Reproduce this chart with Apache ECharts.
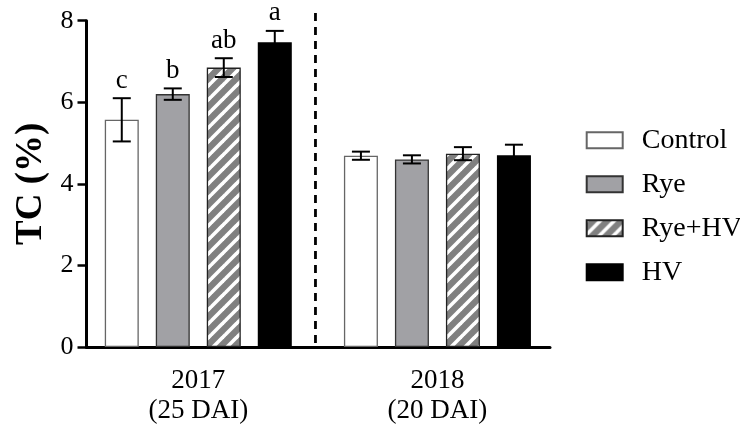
<!DOCTYPE html>
<html>
<head>
<meta charset="utf-8">
<script src="https://cdn.jsdelivr.net/npm/echarts@6/dist/echarts.min.js"></script>
<style>
  html, body { margin: 0; padding: 0; background: #fff; }
  #chart { width: 740px; height: 428px; }
</style>
</head>
<body>
<div id="chart"></div>
<script>
// Sampling years (category axis) and treatments (one bar series each)
const years = ['2017\n(25 DAI)', '2018\n(20 DAI)'];
const treatments = ['Control', 'Rye', 'Rye+HV', 'HV'];

// Mean total carbon (%) per year, and standard error
const controlMean = [5.57, 4.69];
const controlErr  = [0.53, 0.10];
const ryeMean     = [6.20, 4.60];
const ryeErr      = [0.14, 0.10];
const ryeHvMean   = [6.85, 4.74];
const ryeHvErr    = [0.23, 0.16];
const hvMean      = [7.47, 4.70];
const hvErr       = [0.28, 0.26];

// Significance letters (2017 only)
const controlLetters = ['c', ''];
const ryeLetters     = ['b', ''];
const ryeHvLetters   = ['ab', ''];
const hvLetters      = ['a', ''];

// Y axis ticks
const yTicks = [0, 2, 4, 6, 8];

// Position of the dashed divider between the two years (fraction of axis width)
const dividerPos = [0.494];

const FONT = '"Liberation Serif", "Times New Roman", serif';
const BAR_W = 34;
const BAR_GAP = 17;

// Diagonal hatch pattern: grey with white "/" stripes
function makeHatch() {
  const s = 14;
  const c = document.createElement('canvas');
  c.width = s; c.height = s;
  const ctx = c.getContext('2d');
  ctx.fillStyle = '#808080';
  ctx.fillRect(0, 0, s, s);
  ctx.strokeStyle = '#ffffff';
  ctx.lineWidth = 3.6;
  for (const k of [-s, 0, s]) {
    ctx.beginPath();
    ctx.moveTo(k - 1, s + 1);
    ctx.lineTo(k + s + 1, -1);
    ctx.stroke();
  }
  return c;
}
const hatch = makeHatch();

const groups = [
  { name: treatments[0], mean: controlMean, err: controlErr, letters: controlLetters,
    style: { color: '#ffffff', borderColor: '#666666', borderWidth: 1.3 } },
  { name: treatments[1], mean: ryeMean, err: ryeErr, letters: ryeLetters,
    style: { color: '#a1a1a5', borderColor: '#333333', borderWidth: 1.3 } },
  { name: treatments[2], mean: ryeHvMean, err: ryeHvErr, letters: ryeHvLetters,
    style: { color: { image: hatch, repeat: 'repeat' }, borderColor: '#222222', borderWidth: 1.3 } },
  { name: treatments[3], mean: hvMean, err: hvErr, letters: hvLetters,
    style: { color: '#000000', borderColor: '#000000', borderWidth: 1.3 } }
];

const barSeries = groups.map(g => ({
  name: g.name,
  type: 'bar',
  xAxisIndex: 1,
  yAxisIndex: 1,
  barWidth: BAR_W,
  barGap: (BAR_GAP / BAR_W * 100) + '%',
  itemStyle: g.style,
  emphasis: { disabled: true },
  data: g.mean
}));

const errSeries = groups.map((g, i) => {
  const offset = (i - (groups.length - 1) / 2) * (BAR_W + BAR_GAP);
  return {
    type: 'custom',
    xAxisIndex: 1,
    yAxisIndex: 1,
    z: 5,
    silent: true,
    data: years.map((y, k) => [k, g.mean[k], g.err[k]]),
    renderItem(params, api) {
      const k = api.value(0);
      const m = api.value(1);
      const e = api.value(2);
      const x = api.coord([k, m])[0] + offset;
      const yt = api.coord([k, m + e])[1];
      const yb = api.coord([k, m - e])[1];
      const st = { stroke: '#000', lineWidth: 2 };
      const children = [
        { type: 'line', shape: { x1: x, y1: yt, x2: x, y2: yb }, style: st },
        { type: 'line', shape: { x1: x - 9, y1: yt, x2: x + 9, y2: yt }, style: st },
        { type: 'line', shape: { x1: x - 9, y1: yb, x2: x + 9, y2: yb }, style: st }
      ];
      const letter = g.letters[k];
      if (letter) {
        children.push({
          type: 'text',
          style: {
            text: letter, x: x, y: yt - 4,
            align: 'center', verticalAlign: 'bottom',
            fontSize: 27, fontFamily: FONT, fill: '#000'
          }
        });
      }
      return { type: 'group', children };
    }
  };
});

const dividerSeries = {
  type: 'custom',
  xAxisIndex: 0,
  yAxisIndex: 0,
  silent: true,
  clip: false,
  z: 4,
  data: dividerPos.map(v => [v]),
  renderItem(params, api) {
    const v = api.value(0);
    const bottom = api.coord([v, 0]);
    const top = api.coord([v, 8.19]);
    return {
      type: 'line',
      shape: { x1: top[0], y1: top[1], x2: bottom[0], y2: bottom[1] },
      style: { stroke: '#000', lineWidth: 2.8, lineDash: [8, 6] }
    };
  }
};

const chart = echarts.init(document.getElementById('chart'), null, { renderer: 'canvas' });
chart.setOption({
  animation: false,
  backgroundColor: '#ffffff',
  textStyle: { fontFamily: FONT },
  legend: {
    orient: 'vertical',
    left: 585.7,
    top: 126.3,
    padding: 0,
    itemWidth: 36,
    itemHeight: 16,
    itemGap: 16,
    icon: 'rect',
    selectedMode: false,
    data: treatments,
    textStyle: {
      fontFamily: FONT, fontSize: 28, color: '#000',
      padding: [0, 0, 0, 14]
    }
  },
  grid: [
    { left: 86.5, right: 190, top: 20.7, bottom: 81 },
    { left: 78.7, right: 183, top: 20.7, bottom: 81 }
  ],
  xAxis: [
    {
      gridIndex: 0, type: 'value', min: 0, max: 1,
      axisLine: { show: true, lineStyle: { color: '#000', width: 3 } },
      axisTick: { show: false }, axisLabel: { show: false }, splitLine: { show: false }
    },
    {
      gridIndex: 1, type: 'category', data: years,
      axisLine: { show: false }, axisTick: { show: false }, splitLine: { show: false },
      axisLabel: {
        fontFamily: FONT, fontSize: 27, lineHeight: 30, color: '#000', margin: 19
      }
    }
  ],
  yAxis: [
    {
      gridIndex: 0, type: 'value', min: yTicks[0], max: yTicks[yTicks.length - 1],
      interval: yTicks[1] - yTicks[0],
      name: 'TC (%)', nameLocation: 'middle', nameGap: 37,
      nameTextStyle: { fontFamily: FONT, fontSize: 37, fontWeight: 'bold', color: '#000' },
      axisLine: { show: true, lineStyle: { color: '#000', width: 3 } },
      axisTick: { show: true, length: 9, lineStyle: { color: '#000', width: 2.5 } },
      axisLabel: { fontFamily: FONT, fontSize: 26, color: '#000', margin: 13 },
      splitLine: { show: false }
    },
    {
      gridIndex: 1, type: 'value', min: yTicks[0], max: yTicks[yTicks.length - 1],
      show: false, splitLine: { show: false }
    }
  ],
  series: [...barSeries, ...errSeries, dividerSeries]
});
</script>
</body>
</html>
